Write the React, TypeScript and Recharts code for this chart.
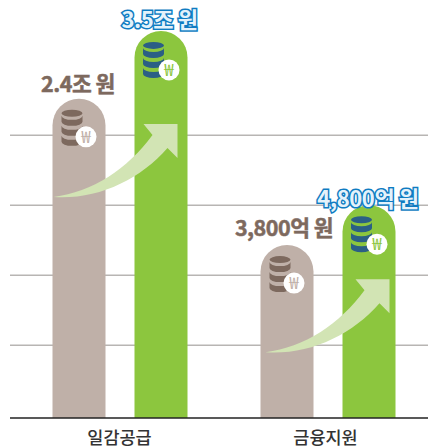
import { Bar, BarChart, CartesianGrid, LabelList, XAxis, YAxis } from "recharts";

const categories = ["일감공급", "금융지원"];
// bars do not share one money scale in the original, so values are heights in grid steps
const beforeHeights = [4.56, 2.47];
const afterHeights = [5.53, 3.04];
const beforeLabels = ["2.4조 원", "3,800억 원"];
const afterLabels = ["3.5조 원", "4,800억 원"];
const gridValues = [1.04, 2.04, 3.04, 4.04];

const chartData = categories.map((name, i) => ({
  name,
  before: beforeHeights[i],
  after: afterHeights[i],
}));

const FONT = '"Noto Sans CJK KR", "Noto Sans", sans-serif';
const TAN = "#bfb0a8";
const GREEN = "#8cc63e";
const BROWN = "#7d695e";
const NAVY = "#2b5f85";
const BLUE = "#0f7cc2";

function Coins({ cx, top, color }: { cx: number; top: number; color: string }) {
  const rx = 10.5;
  const band = 6;
  return (
    <g>
      {[2, 1, 0].map((n) => {
        const y = top + 6 + n * 10;
        return (
          <path
            key={n}
            d={`M${cx - rx} ${y}v${band}a${rx} 4 0 0 0 ${rx * 2} 0v${-band}a${rx} 4 0 0 1 ${-rx * 2} 0z`}
            fill={color}
          />
        );
      })}
      <ellipse cx={cx} cy={top + 3.5} rx={rx} ry={3.5} fill={color} />
    </g>
  );
}

function Won({ cx, cy, color }: { cx: number; cy: number; color: string }) {
  return (
    <g>
      <circle cx={cx} cy={cy} r={10.5} fill="#fff" />
      <text
        x={cx}
        y={cy + 6}
        textAnchor="middle"
        fontSize={17}
        fontFamily={FONT}
        fill={color}
      >
        ₩
      </text>
    </g>
  );
}

function TanBar(props: any) {
  const { x, y, width, height } = props;
  const r = width / 2;
  return (
    <g>
      <path
        d={`M${x} ${y + height}V${y + r}a${r} ${r} 0 0 1 ${width} 0V${y + height}z`}
        fill={TAN}
      />
      <Coins cx={x + 19.5} top={y + 11} color={BROWN} />
      <Won cx={x + 33.5} cy={y + 38} color={TAN} />
    </g>
  );
}

// arrow head placement relative to the green bar, per category
const arrowRight = [43, 47];
const arrowTop = [93, 74];

function GreenBar(props: any) {
  const { x, y, width, height, index } = props;
  const r = width / 2;
  const ax = x + arrowRight[index];
  const ay = y + arrowTop[index];
  const arrow =
    `M${ax - 124} ${ay + 73}` +
    `C${ax - 85} ${ay + 68} ${ax - 50} ${ay + 45} ${ax - 25} ${ay + 11}` +
    `L${ax - 34} ${ay}H${ax}V${ay + 34}L${ax - 10} ${ay + 24}` +
    `C${ax - 38} ${ay + 56} ${ax - 80} ${ay + 76} ${ax - 124} ${ay + 73}z`;
  return (
    <g>
      <path
        d={`M${x} ${y + height}V${y + r}a${r} ${r} 0 0 1 ${width} 0V${y + height}z`}
        fill={GREEN}
      />
      <Coins cx={x + 19} top={y + 11} color={NAVY} />
      <Won cx={x + 34.5} cy={y + 39} color={GREEN} />
      <path d={arrow} fill="#d2e4b4" />
    </g>
  );
}

// label nudges per category, the original placed them by hand
const beforeNudgeX = [-1, -3];
const beforeNudgeY = [-7, -9];
const afterNudgeX = [-1.5, -1];
const afterNudgeY = [-3, 2];

function BeforeLabel(props: any) {
  const { x, y, width, index } = props;
  return (
    <text
      x={x + width / 2 + beforeNudgeX[index]}
      y={y + beforeNudgeY[index]}
      textAnchor="middle"
      fontFamily={FONT}
      fontWeight={700}
      fontSize={21.5}
      letterSpacing={-0.5}
      fill={BROWN}
      stroke={BROWN}
      strokeWidth={0.5}
    >
      {beforeLabels[index]}
    </text>
  );
}

function AfterLabel(props: any) {
  const { x, y, width, index } = props;
  return (
    <text
      x={x + width / 2 + afterNudgeX[index]}
      y={y + afterNudgeY[index]}
      textAnchor="middle"
      fontFamily={FONT}
      fontWeight={700}
      fontSize={22}
      letterSpacing={-0.4}
      fill="#e4f2fb"
      stroke={BLUE}
      strokeWidth={3}
      paintOrder="stroke"
    >
      {afterLabels[index]}
    </text>
  );
}

function CategoryTick(props: any) {
  const { x, y, index, payload } = props;
  return (
    <text
      x={x - (index === 1 ? 2 : 0)}
      y={y + 20}
      textAnchor="middle"
      fontFamily={FONT}
      fontWeight={500}
      fontSize={17.5}
      fill="#333"
    >
      {payload.value}
    </text>
  );
}

export default function App() {
  return (
    <div style={{ position: "absolute", left: 0, top: 0, width: 428, height: 448, background: "#fff" }}>
      <BarChart
        width={428}
        height={448}
        data={chartData}
        margin={{ top: 12, right: 0, bottom: 0, left: 10 }}
        barSize={53}
        barGap={29}
      >
        <CartesianGrid
          vertical={false}
          horizontalValues={gridValues}
          stroke="#b8b5b3"
          strokeWidth={1.5}
        />
        <XAxis
          dataKey="name"
          height={30}
          padding={{ left: 5.5, right: -3.5 }}
          tickLine={false}
          axisLine={{ stroke: "#222", strokeWidth: 1.5 }}
          tick={CategoryTick}
          tickMargin={0}
          interval={0}
        />
        <YAxis hide domain={[0, 5.8]} />
        <Bar dataKey="before" shape={TanBar} isAnimationActive={false}>
          <LabelList content={BeforeLabel} />
        </Bar>
        <Bar dataKey="after" shape={GreenBar} isAnimationActive={false}>
          <LabelList content={AfterLabel} />
        </Bar>
      </BarChart>
    </div>
  );
}
